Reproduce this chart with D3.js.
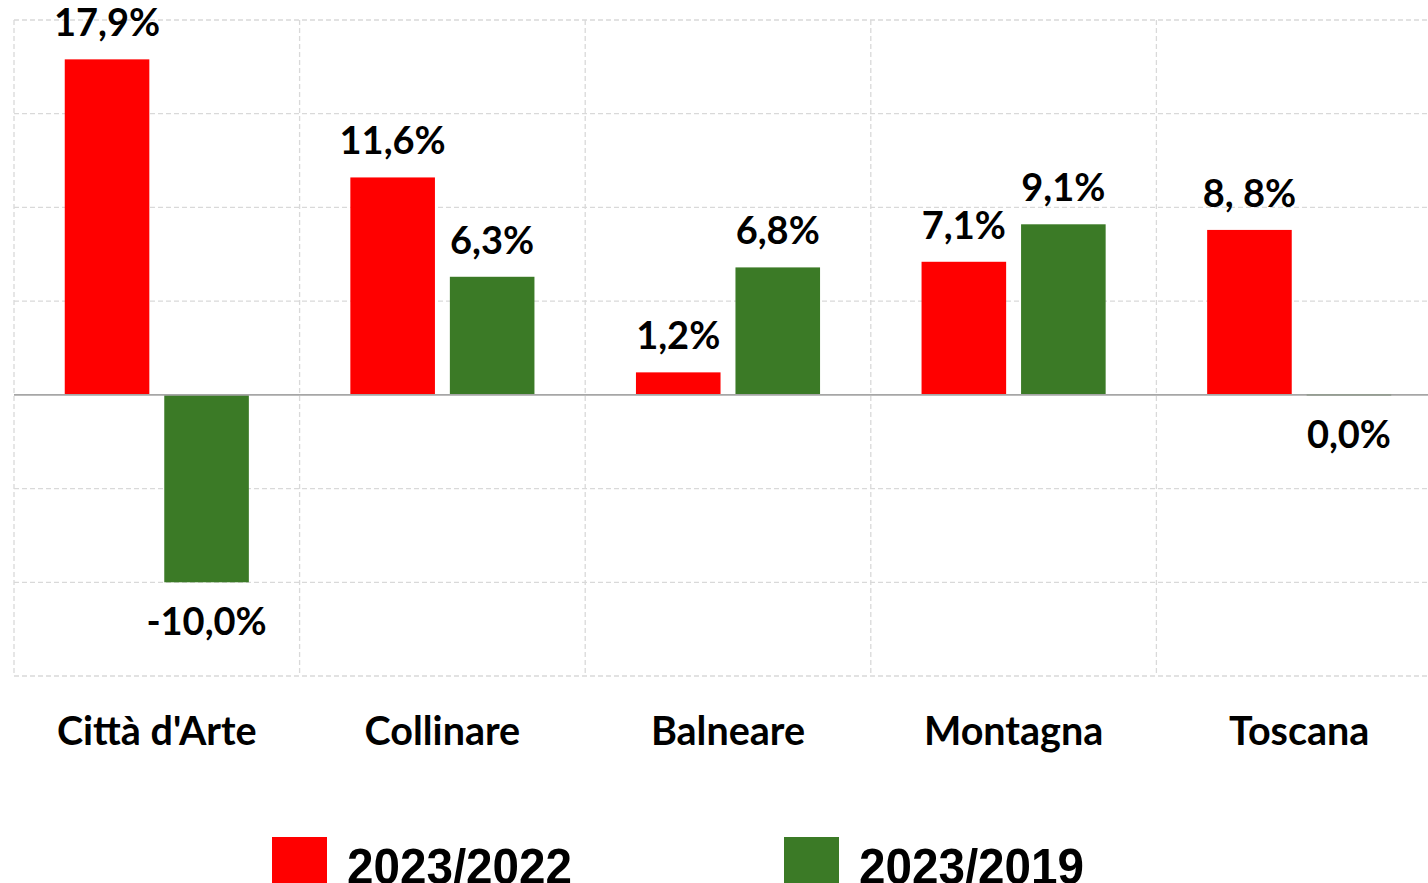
<!DOCTYPE html>
<html><head><meta charset="utf-8">
<script src="https://cdn.jsdelivr.net/npm/d3@7"></script>
<style>body{margin:0;background:#fff;overflow:hidden}svg{display:block}</style>
</head><body>
<svg id="chart" width="1428" height="883"></svg>
<script>
const categories = ["Città d'Arte", "Collinare", "Balneare", "Montagna", "Toscana"];
const seriesNames = ["2023/2022", "2023/2019"];
const values2022 = [17.9, 11.6, 1.2, 7.1, 8.8];
const values2019 = [-10.0, 6.3, 6.8, 9.1, 0.0];
const labels2022 = ["17,9%", "11,6%", "1,2%", "7,1%", "8, 8%"];
const labels2019 = ["-10,0%", "6,3%", "6,8%", "9,1%", "0,0%"];
const yTicks = [-15, -10, -5, 0, 5, 10, 15, 20];
const colors = ["#ff0000", "#3b7a26"];

(function () {
const svg = d3.select("#chart");
const plotLeft = 14, catW = 285.6, plotTop = 20, plotBottom = 676;
const x0 = d3.scaleBand().domain(categories).range([plotLeft, plotLeft + catW * categories.length]).padding(0);
const x1 = d3.scaleBand().domain(seriesNames).range([0, x0.bandwidth()]).paddingInner(0.15).paddingOuter(0.51);
const y = d3.scaleLinear().domain([-15, 20]).range([plotBottom, plotTop]);

const series = [
  {name: seriesNames[0], vals: values2022, labels: labels2022, color: colors[0]},
  {name: seriesNames[1], vals: values2019, labels: labels2019, color: colors[1]}
];

// grid
const grid = svg.append("g");
grid.selectAll("line.h").data(yTicks.filter(d => d !== 0)).join("line")
  .attr("x1", plotLeft).attr("x2", x0.range()[1])
  .attr("y1", d => y(d)).attr("y2", d => y(d))
  .attr("stroke", "#d9d9d9").attr("stroke-width", 1.3).attr("stroke-dasharray", "5,3");
const vx = categories.map(c => x0(c)).concat([x0.range()[1]]);
grid.selectAll("line.v").data(vx).join("line")
  .attr("x1", d => d).attr("x2", d => d)
  .attr("y1", plotTop).attr("y2", plotBottom)
  .attr("stroke", "#d9d9d9").attr("stroke-width", 1.3).attr("stroke-dasharray", "5,3");

// bars
series.forEach(s => {
  const g = svg.append("g");
  g.selectAll("rect").data(categories).join("rect")
    .attr("x", (c) => x0(c) + x1(s.name))
    .attr("width", x1.bandwidth())
    .attr("y", (c, i) => y(Math.max(0, s.vals[i])))
    .attr("height", (c, i) => Math.abs(y(s.vals[i]) - y(0)))
    .attr("fill", s.color);
});

// zero line
svg.append("line").attr("x1", plotLeft).attr("x2", 1428).attr("y1", y(0)).attr("y2", y(0))
  .attr("stroke", "#a6a6a6").attr("stroke-width", 1.6);
// zero-height bar edge
svg.append("g").selectAll("line").data(categories.filter((c, i) => values2019[i] === 0)).join("line")
  .attr("x1", c => x0(c) + x1(seriesNames[1])).attr("x2", c => x0(c) + x1(seriesNames[1]) + x1.bandwidth())
  .attr("y1", y(0)).attr("y2", y(0)).attr("stroke", "#959d92").attr("stroke-width", 1.6);

// data labels
series.forEach(s => {
  svg.append("g").selectAll("text").data(categories).join("text")
    .attr("x", c => x0(c) + x1(s.name) + x1.bandwidth() / 2)
    .attr("y", (c, i) => s.vals[i] > 0 ? y(s.vals[i]) - 23 : y(s.vals[i]) + 53)
    .attr("text-anchor", "middle")
    .attr("font-family", "Lato, 'Open Sans', sans-serif")
    .attr("font-weight", "bold").attr("font-size", 38)
    .attr("fill", "#000")
    .text((c, i) => s.labels[i]);
});

// category labels
svg.append("g").selectAll("text").data(categories).join("text")
  .attr("x", c => x0(c) + x0.bandwidth() / 2)
  .attr("y", 745)
  .attr("text-anchor", "middle")
  .attr("font-family", "Lato, 'Open Sans', sans-serif")
  .attr("font-weight", "bold").attr("font-size", 39.5)
  .attr("fill", "#000")
  .text(c => c);

// legend
const legX = [272, 784];
const leg = svg.append("g");
series.forEach((s, i) => {
  leg.append("rect").attr("x", legX[i]).attr("y", 837).attr("width", 55).attr("height", 50).attr("fill", s.color);
  leg.append("text").attr("x", legX[i] + 75).attr("y", 884)
    .attr("font-family", "'Liberation Sans Narrow', 'Liberation Sans', Arial, sans-serif")
    .attr("font-weight", "bold").attr("font-size", 50)
    .attr("textLength", 225).attr("lengthAdjust", "spacingAndGlyphs")
    .attr("fill", "#000").text(s.name);
});
})();
</script>
</body></html>
